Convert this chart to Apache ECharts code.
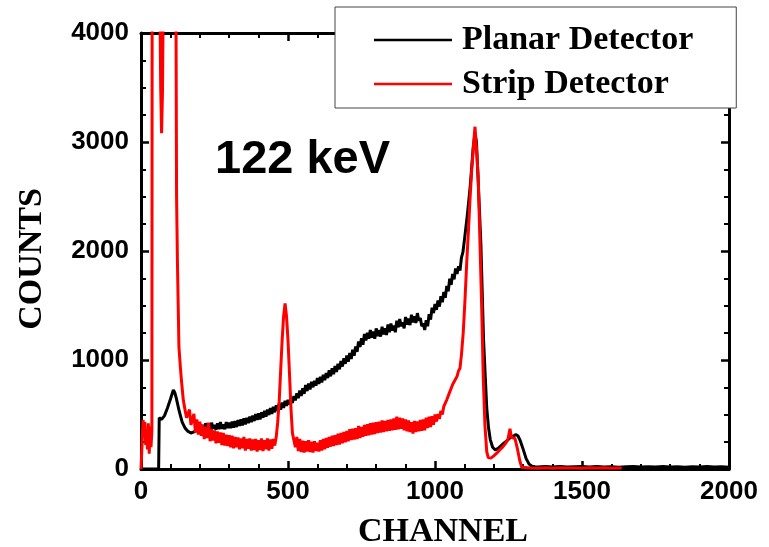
<!DOCTYPE html>
<html>
<head>
<meta charset="utf-8">
<script src="https://cdn.jsdelivr.net/npm/echarts@6/dist/echarts.min.js"></script>
<style>
html,body{margin:0;padding:0;background:#fff;}
#chart{width:769px;height:547px;}
</style>
</head>
<body>
<div id="chart"></div>
<script>
// Series names
var seriesNames = ['Planar Detector', 'Strip Detector'];
// Axis ticks
var xTicks = [0, 500, 1000, 1500, 2000];
var yTicks = [0, 1000, 2000, 3000, 4000];
var annotation = '122 keV';

// Planar detector: [channel, counts]
var planarPoints = [
[0,0],[60,0],[62,470],[70,455],[80,490],[90,560],[100,640],[110,725],[115,700],[120,650],[130,530],[140,430],[150,375],[160,345],[170,330],[180,340],[190,360],
[200,415],[205,360],[210,405],[215,350],[220,420],[225,365],[230,410],[235,355],[240,425],[245,370],[250,405],[255,360],[260,420],[265,365],[270,430],[275,370],[280,410],[285,365],[290,430],[295,375],
[300,425],[305,375],[310,435],[315,380],[320,440],[325,385],[330,450],[335,395],[340,455],[345,400],[350,465],[355,410],[360,470],[365,420],[370,480],[375,430],[380,490],[385,440],[390,505],[395,450],
[400,510],[405,455],[410,520],[415,470],[420,535],[425,480],[430,545],[435,495],[440,560],[445,505],[450,570],[455,520],[460,585],[465,535],[470,600],[475,545],[480,610],[485,560],[490,625],[495,580],
[500,635],[505,590],[510,655],[515,605],[520,670],[525,630],[530,695],[535,650],[540,720],[545,670],[550,740],[555,690],[560,770],[565,715],[570,785],[575,730],[580,800],[585,750],[590,810],[595,765],
[600,835],[605,780],[610,845],[615,795],[620,865],[625,815],[630,880],[635,835],[640,905],[645,850],[650,925],[655,870],[660,945],[665,890],[670,965],[675,915],[680,990],[685,940],[690,1015],[695,965],
[700,1040],[705,985],[710,1065],[715,1010],[720,1095],[725,1040],[730,1125],[735,1075],[740,1170],[745,1120],[750,1200],[755,1140],[760,1240],[765,1180],[770,1250],[775,1195],[780,1275],[785,1205],[790,1260],[795,1195],
[800,1290],[805,1220],[810,1275],[815,1215],[820,1305],[825,1235],[830,1290],[835,1230],[840,1325],[845,1255],[850,1335],[855,1270],[860,1315],[865,1255],[870,1360],[875,1300],[880,1375],[885,1310],[890,1345],[895,1290],
[900,1395],[905,1325],[910,1380],[915,1320],[920,1415],[925,1345],[930,1400],[935,1340],[940,1430],[945,1360],[950,1385],[955,1310],[960,1335],[965,1275],[970,1365],[975,1310],[980,1420],[985,1370],[990,1480],[995,1430],
[1000,1515],[1005,1460],[1010,1545],[1015,1490],[1020,1585],[1025,1530],[1030,1625],[1035,1570],[1040,1680],[1045,1630],[1050,1745],[1055,1690],[1060,1790],[1065,1740],[1070,1840],[1075,1790],[1080,1860],[1085,1820],[1090,1940],[1095,1990],
[1100,2100],[1110,2330],[1120,2600],[1130,2950],[1136,3080],[1141,3000],[1150,2450],[1156,2070],[1165,1200],[1170,900],[1176,560],[1182,380],[1188,270],[1196,200],
[1205,175],[1215,190],[1225,215],[1235,240],[1245,260],[1255,285],[1265,300],[1275,315],[1282,305],[1290,260],[1300,180],[1310,95],[1320,45],[1330,25],[1340,20],
[1350,18],[1375,22],[1400,19],[1425,23],[1450,18],[1475,21],[1500,24],[1525,19],[1550,22],[1575,18],[1600,21],[1625,17],[1650,20],[1675,23],[1700,18],[1725,21],[1750,19],[1775,22],[1800,18],[1825,20],[1850,17],[1875,21],[1900,19],[1925,22],[1950,18],[1975,20],[2000,17]
];

// Strip detector: [channel, counts]
var stripPoints = [
[0,0],[4,250],[7,450],[10,380],[13,430],[16,220],[19,330],[22,180],[25,420],[28,140],[31,390],[34,200],[37,350],[39,9000],[60,9000],[64,4400],[67,3500],[70,3080],[73,3450],[76,4400],[80,9000],[116,9000],
[119,4200],[121,2500],[124,1890],[129,1120],[134,930],[138,800],[144,630],
[150,540],[155,470],[160,465],[165,545],[170,405],[175,395],[180,505],[185,335],[190,455],[195,315],[200,435],[205,305],[210,405],[215,275],[220,385],[225,285],[230,425],[235,255],[240,365],[245,260],
[250,355],[255,235],[260,345],[265,240],[270,335],[275,220],[280,330],[285,215],[290,315],[295,210],[300,310],[305,200],[310,305],[315,190],[320,295],[325,200],[330,290],[335,180],[340,280],[345,190],
[350,295],[355,170],[360,275],[365,185],[370,280],[375,170],[380,270],[385,175],[390,275],[395,160],[400,265],[405,175],[410,280],[415,165],[420,265],[425,180],[430,280],[435,170],[440,270],[445,185],
[450,275],[455,215],[460,295],[465,430],[470,620],[475,900],[480,1180],[485,1400],[490,1520],[495,1400],[500,1180],[505,880],[510,560],[515,330],[520,265],
[525,200],[530,295],[535,165],[540,275],[545,155],[550,260],[555,150],[560,255],[565,160],[570,265],[575,155],[580,250],[585,150],[590,255],[595,165],[600,240],[605,160],[610,265],[615,170],[620,275],
[625,180],[630,285],[635,195],[640,295],[645,205],[650,305],[655,210],[660,310],[665,220],[670,325],[675,225],[680,330],[685,235],[690,340],[695,245],[700,350],[705,255],[710,365],[715,265],[720,370],
[725,270],[730,375],[735,275],[740,395],[745,285],[750,385],[755,295],[760,405],[765,305],[770,410],[775,310],[780,420],[785,315],[790,425],[795,320],[800,430],[805,330],[810,435],[815,335],[820,445],
[825,340],[830,440],[835,345],[840,450],[845,350],[850,455],[855,355],[860,465],[865,360],[870,480],[875,365],[880,470],[885,370],[890,465],[895,355],[900,455],[905,345],[910,445],[915,340],[920,430],
[925,325],[930,440],[935,340],[940,435],[945,345],[950,450],[955,350],[960,455],[965,355],[970,470],[975,375],[980,480],[985,385],[990,485],[995,405],[1000,500],
[1005,435],[1010,505],[1015,460],[1020,535],[1025,500],[1030,575],[1035,560],[1040,635],[1045,630],[1050,705],[1055,700],[1060,775],[1065,760],[1070,825],[1075,850],[1080,900],[1085,925],[1090,1050],[1096,1250],
[1102,1550],[1108,1900],[1114,2200],[1119,2470],[1125,2750],[1130,2930],[1136,3140],[1142,2900],[1147,2680],[1153,2070],[1159,1460],[1164,850],[1170,390],[1176,160],[1181,105],[1190,100],
[1200,120],[1210,145],[1220,175],[1230,200],[1240,235],[1248,270],[1255,370],[1260,290],[1266,300],[1272,280],[1280,190],[1288,80],[1295,15],[1300,8],
[1325,10],[1350,7],[1375,11],[1400,8],[1425,12],[1450,9],[1475,10],[1500,7],[1525,11],[1550,9],[1575,12],[1600,8],[1625,10],[1635,9]
];

var chart = echarts.init(document.getElementById('chart'), null, {renderer: 'canvas'});
var SANS = '"Liberation Sans", Arial, sans-serif';
var SERIF = '"Liberation Serif", "Times New Roman", serif';
function plain(v) { return String(v); }

function xAxisCfg(pos, main) {
  return {
    type: 'value', position: pos, min: xTicks[0], max: xTicks[xTicks.length - 1],
    interval: xTicks[1] - xTicks[0],
    axisLine: {show: true, onZero: false, lineStyle: {color: '#000', width: 3}},
    axisTick: {show: true, inside: true, length: 8, lineStyle: {color: '#000', width: 2.5}},
    minorTick: {show: true, splitNumber: 5, length: 5, lineStyle: {color: '#000', width: 2}},
    splitLine: {show: false},
    axisLabel: {show: main, formatter: plain, fontFamily: SANS, fontWeight: 'bold', fontSize: 26, color: '#000', margin: 10},
    name: main ? 'CHANNEL' : '', nameLocation: 'middle', nameGap: 46,
    nameTextStyle: {fontFamily: SERIF, fontWeight: 'bold', fontSize: 34, color: '#000', padding: [0, 0, 0, 16]}
  };
}
function yAxisCfg(pos, main) {
  return {
    type: 'value', position: pos, min: yTicks[0], max: yTicks[yTicks.length - 1],
    interval: yTicks[1] - yTicks[0],
    axisLine: {show: true, onZero: false, lineStyle: {color: '#000', width: 3}},
    axisTick: {show: true, inside: true, length: 8, lineStyle: {color: '#000', width: 2.5}},
    minorTick: {show: true, splitNumber: 4, length: 5, lineStyle: {color: '#000', width: 2}},
    splitLine: {show: false},
    axisLabel: {show: main, formatter: plain, fontFamily: SANS, fontWeight: 'bold', fontSize: 26, color: '#000', margin: 12},
    name: main ? 'COUNTS' : '', nameLocation: 'middle', nameGap: 92,
    nameTextStyle: {fontFamily: SERIF, fontWeight: 'bold', fontSize: 34, color: '#000', padding: [0, 16, 0, 0]}
  };
}

chart.setOption({
  animation: false,
  backgroundColor: '#fff',
  grid: {left: 141, right: 40, top: 33, bottom: 78, containLabel: false, outerBoundsMode: 'none'},
  xAxis: [xAxisCfg('bottom', true), xAxisCfg('top', false)],
  yAxis: [yAxisCfg('left', true), yAxisCfg('right', false)],
  legend: {
    data: seriesNames, orient: 'vertical', left: 335, top: 7,
    icon: 'rect', itemWidth: 78, itemHeight: 2.5, itemGap: 10,
    padding: [16, 43, 7, 39],
    backgroundColor: '#fff', borderColor: '#444', borderWidth: 1,
    textStyle: {fontFamily: SERIF, fontWeight: 'bold', fontSize: 34, color: '#000', padding: [0, 0, 0, 5]}
  },
  graphic: [{
    type: 'text', x: 215, y: 160,
    style: {text: annotation, fontFamily: SANS, fontWeight: 'bold', fontSize: 47, fill: '#000', verticalAlign: 'middle'}
  }],
  series: [
    {name: seriesNames[0], type: 'line', data: planarPoints, showSymbol: false, symbol: 'none', clip: true,
     lineStyle: {color: '#000', width: 3}, itemStyle: {color: '#000'}, z: 2},
    {name: seriesNames[1], type: 'line', data: stripPoints, showSymbol: false, symbol: 'none', clip: true,
     lineStyle: {color: '#ff0000', width: 3}, itemStyle: {color: '#ff0000'}, z: 3}
  ]
});
</script>
</body>
</html>
